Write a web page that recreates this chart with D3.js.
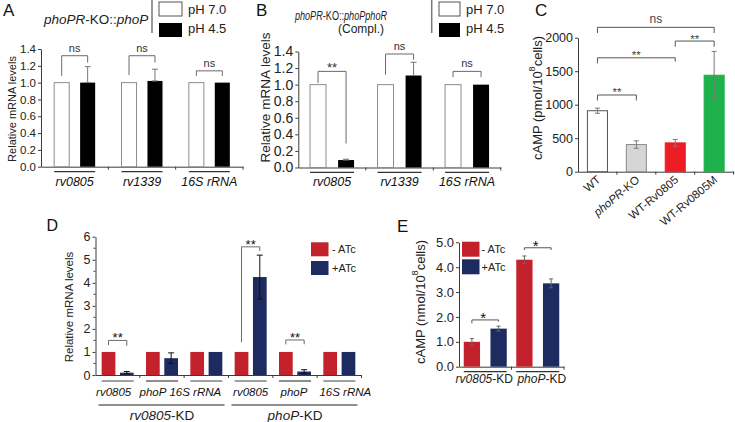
<!DOCTYPE html>
<html><head><meta charset="utf-8">
<script src="https://cdn.jsdelivr.net/npm/d3@7"></script>
<style>
html,body{margin:0;padding:0;background:#fff;}
svg{display:block;font-family:Arial,"Liberation Sans",Helvetica,sans-serif;}
</style></head><body>
<svg id="fig" width="735" height="422"></svg>
<script>
// ---------------- DATA ----------------
// Panels A & B
const catsAB = ["rv0805", "rv1339", "16S rRNA"];
const seriesAB = ["pH 7.0", "pH 4.5"];
const aPH70 = [1.0, 1.0, 1.0];
const aPH45 = [1.0, 1.02, 1.0];
const aPH45Err = [0.19, 0.14, 0];
const bPH70 = [1.0, 1.0, 1.0];
const bPH45 = [0.09, 1.11, 1.0];
const bPH45Err = [0.01, 0.16, 0];
const ticksAB = [0, 0.2, 0.4, 0.6, 0.8, 1.0, 1.2, 1.4];
const aSig = ["ns", "ns", "ns"];
const aSigLevel = [1.32, 1.32, 1.14];
const aSigLeft = [1.08, 1.09, 1.08];
const aSigRight = [1.24, 1.24, 1.08];
const bSig = ["**", "ns", "ns"];
const bSigLevel = [1.16, 1.37, 1.16];
const bSigLeft = [1.02, 1.12, 1.09];
const bSigRight = [0.29, 1.30, 1.09];
// Panel C
const cCats = ["WT", "phoPR-KO", "WT-Rv0805", "WT-Rv0805M"];
const cVals = [910, 405, 430, 1440];
const cErr = [38, 55, 50, 355];
const cTicks = [0, 500, 1000, 1500, 2000];
const cSigPairs = [[0, 3], [2, 3], [0, 2], [0, 1]];
const cSig = ["ns", "**", "**", "**"];
const cSigLevel = [2155, 1950, 1700, 1145];
const cSigLeft = [2070, 1866, 1618, 1063];
const cSigRight = [2070, 1866, 1642, 1063];
// Panel D
const dGenes = ["rv0805", "phoP", "16S rRNA", "rv0805", "phoP", "16S rRNA"];
const dStrains = ["rv0805-KD", "phoP-KD"];
const seriesDE = ["- ATc", "+ATc"];
const dMinus = [1, 1, 1, 1, 1, 1];
const dPlus = [0.1, 0.73, 1.0, 4.25, 0.15, 1.0];
const dPlusErr = [0.05, 0.23, 0, 0.95, 0.08, 0];
const dTicks = [0, 1, 2, 3, 4, 5, 6];
const dSig = ["**", "", "", "**", "**", ""];
const dSigLevel = [1.50, 0, 0, 5.56, 1.52, 0];
const dSigLeft = [1.30, 0, 0, 1.42, 1.33, 0];
const dSigRight = [1.27, 0, 0, 5.38, 1.33, 0];
// Panel E
const eCats = ["rv0805-KD", "phoP-KD"];
const eMinus = [1.0, 4.3];
const eMinusErr = [0.13, 0.15];
const ePlus = [1.53, 3.35];
const ePlusErr = [0.1, 0.18];
const eTicks = [0, 1, 2, 3, 4, 5];
const eSig = ["*", "*"];
const eSigLevel = [1.88, 4.78];
const eSigLeft = [1.74, 4.69];
const eSigRight = [1.81, 4.69];

// ---------------- HELPERS ----------------
const svg = d3.select("#fig");
const FONT = "Arial, 'Liberation Sans', Helvetica, sans-serif";
const AX = "#3c3c3c";
const RED = "#c3222c", BLUE = "#1e2b60";

function yAxisDraw(g, y, x0, ticks, fmt, fs, minorStep) {
  const a = g.append("g").attr("transform", `translate(${x0},0)`)
    .call(d3.axisLeft(y).tickValues(ticks).tickFormat(fmt).tickSize(3).tickPadding(2).tickSizeOuter(0));
  a.attr("font-family", FONT).attr("font-size", fs);
  a.select(".domain").attr("stroke", AX);
  a.selectAll(".tick line").attr("stroke", AX);
  a.selectAll(".tick text").attr("fill", "#222");
  if (minorStep) {
    const d = y.domain();
    const minor = d3.range(d[0] + minorStep, d[1], minorStep * 2);
    a.selectAll(".minor").data(minor).join("line")
      .attr("x1", 0).attr("x2", -2).attr("y1", v => y(v)).attr("y2", v => y(v)).attr("stroke", AX);
  }
  return a;
}
function xAxisDraw(g, x, y0, boundaries) {
  const a = g.append("g").attr("transform", `translate(0,${y0})`)
    .call(d3.axisBottom(x).tickSize(0).tickSizeOuter(0).tickFormat(""));
  a.select(".domain").attr("stroke", AX);
  a.selectAll(".tick").remove();
  g.selectAll(null).data(boundaries).join("line")
    .attr("x1", d => d).attr("x2", d => d).attr("y1", y0).attr("y2", y0 + 3).attr("stroke", AX);
}
function bracket(g, x1, x2, yH, yL, yR, label, o) {
  if (!label) return;
  g.append("path").attr("d", `M${x1},${yL}V${yH}H${x2}V${yR}`)
    .attr("fill", "none").attr("stroke", o.stroke || "#666").attr("stroke-width", 1);
  const star = label.indexOf("*") >= 0;
  g.append("text").attr("x", (x1 + x2) / 2 + (o.dx || 0))
    .attr("y", star ? yH + (o.starDy ?? 1.5) : yH - 4)
    .attr("text-anchor", "middle").attr("font-size", star ? (o.starFs || 12) : (o.nsFs || 11))
    .attr("fill", o.text || "#333").text(label);
}
function errBar(g, cx, yTop, yBot, cap, color) {
  g.append("path").attr("d", `M${cx},${yBot}V${yTop}M${cx - cap},${yTop}H${cx + cap}` + (yBot !== null ? `M${cx - cap},${yBot}H${cx + cap}` : ""))
    .attr("fill", "none").attr("stroke", color).attr("stroke-width", 1);
}
function yTitle(g, x, y, fs, parts) {
  const t = g.append("text").attr("transform", `translate(${x},${y}) rotate(-90)`)
    .attr("text-anchor", "middle").attr("dominant-baseline", "central").attr("font-size", fs).attr("fill", "#222");
  parts.forEach(p => {
    const s = t.append("tspan").text(p.t);
    if (p.sup) s.attr("font-size", fs * 0.7).attr("dy", -fs * 0.42);
    if (p.after) s.attr("dy", fs * 0.42);
    if (p.it) s.attr("font-style", "italic");
  });
}
function panelLabel(x, y, t, fs) {
  svg.append("text").attr("x", x).attr("y", y).attr("font-size", fs || 17).attr("fill", "#111").text(t);
}
function richText(g, x, y, fs, parts, anchor) {
  const t = g.append("text").attr("x", x).attr("y", y).attr("font-size", fs).attr("fill", "#222")
    .attr("text-anchor", anchor || "start");
  parts.forEach(p => { const s = t.append("tspan").text(p.t); if (p.it) s.attr("font-style", "italic"); });
  return t;
}

// ---------------- PANELS A & B ----------------
function panelAB(cfg) {
  const g = svg.append("g").attr("font-family", FONT);
  const x = d3.scaleBand().domain(catsAB).range(cfg.xr);
  const y = d3.scaleLinear().domain([0, 1.4]).range(cfg.yr);
  const xs = d3.scaleBand().domain(seriesAB).range([-cfg.half, cfg.half]).paddingInner(cfg.pin);
  const bw = xs.bandwidth();
  const cx = c => x(c) + x.bandwidth() / 2;
  yAxisDraw(g, y, cfg.xr[0], ticksAB, d3.format(".1f"), cfg.tickFs);
  xAxisDraw(g, x, y(0), catsAB.slice(1).map(c => x(c)).concat([cfg.xr[1]]));
  g.selectAll(".w").data(catsAB).join("rect")
    .attr("x", c => cx(c) + xs("pH 7.0")).attr("width", bw)
    .attr("y", (c, i) => y(cfg.v70[i])).attr("height", (c, i) => y(0) - y(cfg.v70[i]))
    .attr("fill", "#fff").attr("stroke", "#8c8c8c").attr("stroke-width", 1);
  g.selectAll(".k").data(catsAB).join("rect")
    .attr("x", c => cx(c) + xs("pH 4.5")).attr("width", bw)
    .attr("y", (c, i) => y(cfg.v45[i])).attr("height", (c, i) => y(0) - y(cfg.v45[i]))
    .attr("fill", "#000");
  catsAB.forEach((c, i) => {
    const bxc = cx(c) + xs("pH 4.5") + bw / 2;
    const wxc = cx(c) + xs("pH 7.0") + bw / 2;
    if (cfg.err[i] > 0) errBar(g, bxc, y(cfg.v45[i] + cfg.err[i]), y(cfg.v45[i]), 3, "#777");
    bracket(g, wxc, bxc, y(cfg.sigLevel[i]), y(cfg.sigLeft[i]), y(cfg.sigRight[i]), cfg.sig[i], { stroke: "#6a6a6a", starFs: 13, starDy: 1 });
    g.append("line").attr("x1", cx(c) + xs("pH 7.0")).attr("x2", cx(c) + xs("pH 4.5") + bw)
      .attr("y1", cfg.ulY).attr("y2", cfg.ulY).attr("stroke", "#333").attr("stroke-width", 1.2);
    g.append("text").attr("x", cx(c)).attr("y", cfg.labY).attr("text-anchor", "middle")
      .attr("font-size", 12.5).attr("font-style", "italic").attr("fill", "#111").text(c);
  });
  yTitle(g, cfg.titleX, cfg.titleY, cfg.titleFs, [{ t: "Relative mRNA levels" }]);
  g.append("line").attr("x1", cfg.sepX).attr("x2", cfg.sepX).attr("y1", 0).attr("y2", 33).attr("stroke", "#777").attr("stroke-width", 1.5);
  g.append("rect").attr("x", cfg.boxX).attr("y", 2).attr("width", cfg.boxW).attr("height", 14).attr("fill", "#fff").attr("stroke", "#555");
  g.append("rect").attr("x", cfg.boxX).attr("y", 23).attr("width", cfg.boxW).attr("height", 14).attr("fill", "#000");
  g.append("text").attr("x", cfg.boxX + cfg.boxW + 6).attr("y", 14).attr("font-size", 13).attr("fill", "#222").text(seriesAB[0]);
  g.append("text").attr("x", cfg.boxX + cfg.boxW + 6).attr("y", 33).attr("font-size", 13).attr("fill", "#222").text(seriesAB[1]);
  return g;
}

const gA = panelAB({
  xr: [41, 243], yr: [166.7, 49], half: 20.5, pin: 0.42, tickFs: 11.5,
  v70: aPH70, v45: aPH45, err: aPH45Err,
  sig: aSig, sigLevel: aSigLevel, sigLeft: aSigLeft, sigRight: aSigRight,
  ulY: 171.7, labY: 185.5, titleX: 12, titleY: 109, titleFs: 11,
  sepX: 152, boxX: 159, boxW: 23
});
richText(gA, 44, 23.5, 13.5, [{ t: "phoPR", it: true }, { t: "-KO::" }, { t: "phoP", it: true }]);

const gB = panelAB({
  xr: [298.3, 500.8], yr: [167.5, 51.5], half: 22, pin: 0.43, tickFs: 14,
  v70: bPH70, v45: bPH45, err: bPH45Err,
  sig: bSig, sigLevel: bSigLevel, sigLeft: bSigLeft, sigRight: bSigRight,
  ulY: 172.3, labY: 186, titleX: 265, titleY: 97.5, titleFs: 13.5,
  sepX: 431.7, boxX: 439, boxW: 21
});
const bHead = gB.append("g").attr("transform", "translate(341,19.5) scale(0.76,1)");
richText(bHead, 0, 0, 12, [{ t: "phoPR", it: true }, { t: "-KO::" }, { t: "phoPphoR", it: true }], "middle");
gB.append("text").attr("x", 361).attr("y", 33).attr("text-anchor", "middle").attr("font-size", 12).attr("fill", "#222").text("(Compl.)");

panelLabel(3, 15.5, "A");
panelLabel(256, 15.5, "B");

// ---------------- PANEL C ----------------
(function () {
  const g = svg.append("g").attr("font-family", FONT);
  const x = d3.scaleBand().domain(cCats).range([578, 733.6]).paddingInner(0.485).paddingOuter(0.2425);
  const y = d3.scaleLinear().domain([0, 2000]).range([171.7, 37.7]);
  const cx = c => x(c) + x.bandwidth() / 2;
  yAxisDraw(g, y, 578, cTicks, d3.format("d"), 12.5);
  const half = (x.step() - x.bandwidth()) / 2;
  xAxisDraw(g, x, y(0), cCats.slice(1).map(c => x(c) - half).concat([733.6]));
  const fills = ["#ffffff", "#d6d6d6", "#ee1c25", "#1fb14c"];
  const strokes = ["#555", "#8a8a8a", "#ee1c25", "#1fb14c"];
  g.selectAll(".cb").data(cCats).join("rect")
    .attr("x", c => x(c)).attr("width", x.bandwidth())
    .attr("y", (c, i) => y(cVals[i])).attr("height", (c, i) => y(0) - y(cVals[i]))
    .attr("fill", (c, i) => fills[i]).attr("stroke", (c, i) => strokes[i]).attr("stroke-width", 1);
  cCats.forEach((c, i) => errBar(g, cx(c), y(cVals[i] + cErr[i]), y(cVals[i] - cErr[i]), 2.5, "#7a7a7a"));
  cSigPairs.forEach((p, k) => {
    bracket(g, cx(cCats[p[0]]), cx(cCats[p[1]]), y(cSigLevel[k]), y(cSigLeft[k]), y(cSigRight[k]), cSig[k],
      { stroke: "#555", text: "#444", starFs: 11.5, starDy: 1.5, nsFs: 12 });
  });
  cCats.forEach((c, i) => {
    const t = g.append("text").attr("transform", `translate(${cx(c) + 4},${181}) rotate(-40)`)
      .attr("text-anchor", "end").attr("font-size", 11.5).attr("fill", "#222");
    if (c === "phoPR-KO") { t.append("tspan").attr("font-style", "italic").text("phoPR"); t.append("tspan").text("-KO"); }
    else t.text(c);
  });
  yTitle(g, 537, 98, 13, [{ t: "cAMP (pmol/10" }, { t: "8", sup: true }, { t: "cells)", after: true }]);
})();
panelLabel(535, 15.5, "C");

// ---------------- PANEL D ----------------
(function () {
  const g = svg.append("g").attr("font-family", FONT);
  const idx = d3.range(dGenes.length);
  const x = d3.scaleBand().domain(idx).range([95.5, 361.5]);
  const y = d3.scaleLinear().domain([0, 6]).range([375, 236.7]);
  const xs = d3.scaleBand().domain(seriesDE).range([-16, 16]).paddingInner(0.25);
  const bw = xs.bandwidth();
  const cx = i => x(i) + x.bandwidth() / 2;
  const labNudge = [-4, -9, -11, 0, -1, 6];
  yAxisDraw(g, y, 95.5, dTicks, d3.format("d"), 12.5, 0.5);
  xAxisDraw(g, x, y(0), idx.slice(1).map(i => x(i)).concat([361.5]));
  g.selectAll(".dr").data(idx).join("rect")
    .attr("x", i => cx(i) + xs(seriesDE[0])).attr("width", bw)
    .attr("y", i => y(dMinus[i])).attr("height", i => y(0) - y(dMinus[i])).attr("fill", RED);
  g.selectAll(".db").data(idx).join("rect")
    .attr("x", i => cx(i) + xs(seriesDE[1])).attr("width", bw)
    .attr("y", i => y(dPlus[i])).attr("height", i => y(0) - y(dPlus[i])).attr("fill", BLUE);
  idx.forEach(i => {
    const rc = cx(i) + xs(seriesDE[0]) + bw / 2, bc = cx(i) + xs(seriesDE[1]) + bw / 2;
    if (dPlusErr[i] > 0) errBar(g, bc, y(dPlus[i] + dPlusErr[i]), y(dPlus[i] - dPlusErr[i]), 3, "#111");
    bracket(g, rc, bc, y(dSigLevel[i]), y(dSigLeft[i]), y(dSigRight[i]), dSig[i], { stroke: "#6a6a6a", text: "#111", starFs: 13, starDy: 2 });
    g.append("line").attr("x1", cx(i) + xs(seriesDE[0])).attr("x2", cx(i) + xs(seriesDE[1]) + bw)
      .attr("y1", 381).attr("y2", 381).attr("stroke", "#444").attr("stroke-width", 1.2);
    g.append("text").attr("x", cx(i) + labNudge[i]).attr("y", 396).attr("text-anchor", "middle")
      .attr("font-size", 11.5).attr("font-style", "italic").attr("fill", "#111").text(dGenes[i]);
  });
  dStrains.forEach((s, k) => {
    const x1 = x(k * 3), x2 = x(k * 3 + 2) + x.bandwidth();
    g.append("line").attr("x1", x1 + 3).attr("x2", x2 - 4).attr("y1", 405).attr("y2", 405).attr("stroke", "#222").attr("stroke-width", 1.2);
    const parts = s.split("-");
    richText(g, (x1 + x2) / 2, 419.5, 13.5, [{ t: parts[0], it: true }, { t: "-" + parts[1] }], "middle");
  });
  yTitle(g, 68.5, 307, 11.5, [{ t: "Relative mRNA levels" }]);
  g.append("rect").attr("x", 311).attr("y", 242.3).attr("width", 17.5).attr("height", 14).attr("fill", RED);
  g.append("rect").attr("x", 311).attr("y", 261).attr("width", 17.5).attr("height", 14).attr("fill", BLUE);
  g.append("text").attr("x", 332).attr("y", 253).attr("font-size", 11).attr("fill", "#222").text(seriesDE[0]);
  g.append("text").attr("x", 332).attr("y", 272).attr("font-size", 11).attr("fill", "#222").text(seriesDE[1]);
})();
panelLabel(46.5, 231, "D", 16);

// ---------------- PANEL E ----------------
(function () {
  const g = svg.append("g").attr("font-family", FONT);
  const x = d3.scaleBand().domain(eCats).range([459, 564]);
  const y = d3.scaleLinear().domain([0, 5]).range([366.7, 242.3]);
  const xs = d3.scaleBand().domain(seriesDE).range([-21.5, 21.5]).paddingInner(0.39);
  const bw = xs.bandwidth();
  const cx = c => x(c) + x.bandwidth() / 2;
  const labNudge = [-1, 4];
  yAxisDraw(g, y, 459, eTicks, d3.format(".1f"), 13);
  xAxisDraw(g, x, y(0), [x(eCats[1]), 564]);
  g.selectAll(".er").data(eCats).join("rect")
    .attr("x", c => cx(c) + xs(seriesDE[0])).attr("width", bw)
    .attr("y", (c, i) => y(eMinus[i])).attr("height", (c, i) => y(0) - y(eMinus[i])).attr("fill", RED);
  g.selectAll(".eb").data(eCats).join("rect")
    .attr("x", c => cx(c) + xs(seriesDE[1])).attr("width", bw)
    .attr("y", (c, i) => y(ePlus[i])).attr("height", (c, i) => y(0) - y(ePlus[i])).attr("fill", BLUE);
  eCats.forEach((c, i) => {
    const rc = cx(c) + xs(seriesDE[0]) + bw / 2, bc = cx(c) + xs(seriesDE[1]) + bw / 2;
    errBar(g, rc, y(eMinus[i] + eMinusErr[i]), y(eMinus[i] - eMinusErr[i]), 2, "#666");
    errBar(g, bc, y(ePlus[i] + ePlusErr[i]), y(ePlus[i] - ePlusErr[i]), 2, "#666");
    bracket(g, rc, bc, y(eSigLevel[i]), y(eSigLeft[i]), y(eSigRight[i]), eSig[i], { stroke: "#555", text: "#111", starFs: 15, starDy: 3.5, dx: -2 });
    g.append("line").attr("x1", cx(c) + xs(seriesDE[0])).attr("x2", cx(c) + xs(seriesDE[1]) + bw)
      .attr("y1", 371.7).attr("y2", 371.7).attr("stroke", "#333").attr("stroke-width", 1.2);
    const parts = c.split("-");
    richText(g, cx(c) + labNudge[i], 383, 12, [{ t: parts[0], it: true }, { t: "-" + parts[1] }], "middle");
  });
  yTitle(g, 420, 302, 13, [{ t: "cAMP (nmol/10" }, { t: "8", sup: true }, { t: "cells)", after: true }]);
  g.append("rect").attr("x", 462).attr("y", 241.7).attr("width", 17.5).attr("height", 15).attr("fill", RED);
  g.append("rect").attr("x", 462).attr("y", 259.3).attr("width", 17.5).attr("height", 15).attr("fill", BLUE);
  g.append("text").attr("x", 481.5).attr("y", 253).attr("font-size", 11).attr("fill", "#222").text(seriesDE[0]);
  g.append("text").attr("x", 481.5).attr("y", 271).attr("font-size", 11).attr("fill", "#222").text(seriesDE[1]);
})();
panelLabel(397, 232, "E");
</script>
</body></html>
